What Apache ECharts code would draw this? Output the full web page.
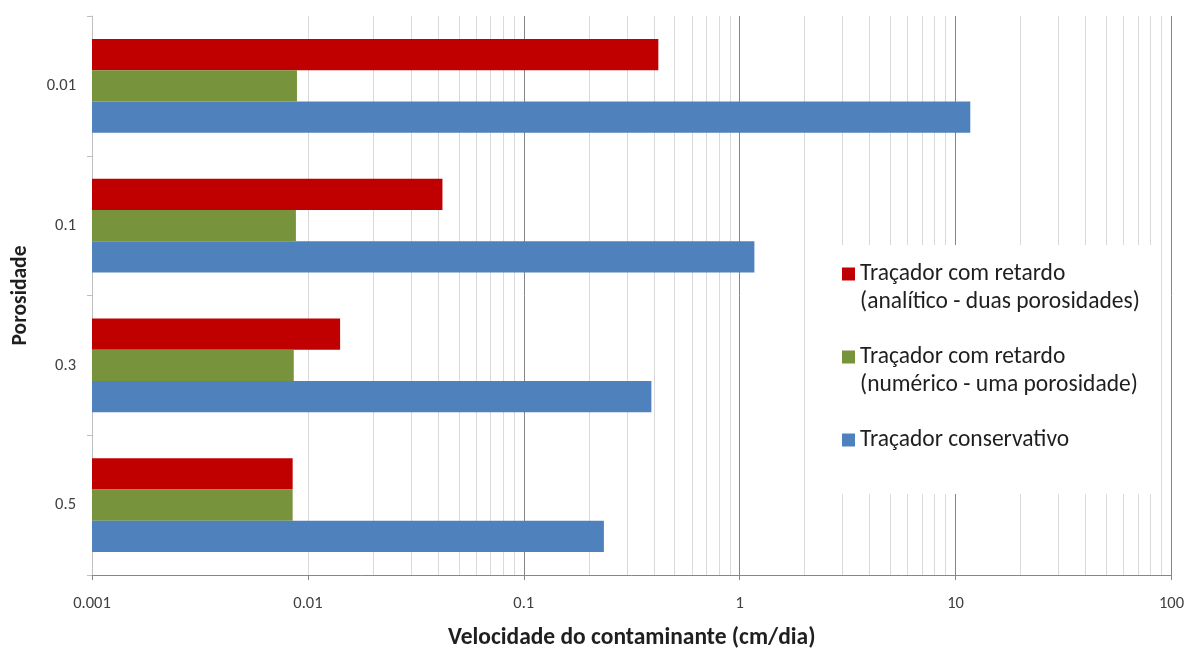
<!DOCTYPE html>
<html>
<head>
<meta charset="utf-8">
<script src="https://cdn.jsdelivr.net/npm/echarts@6/dist/echarts.min.js"></script>
<style>
html,body{margin:0;padding:0;background:#fff;}
#chart{width:1187px;height:655px;}
</style>
</head>
<body>
<div id="chart"></div>
<script>
// Data
const categories = ['0.01', '0.1', '0.3', '0.5'];
const seriesNames = [
  'Traçador com retardo\n(analítico - duas porosidades)',
  'Traçador com retardo\n(numérico - uma porosidade)',
  'Traçador conservativo'
];
const analitico = [0.42, 0.042, 0.0141, 0.0085];
const numerico = [0.0089, 0.0088, 0.0086, 0.0085];
const conservativo = [11.7, 1.17, 0.39, 0.235];
const xTickLabels = ['0.001', '0.01', '0.1', '1', '10', '100'];
const minorGridValues = [
  0.002,0.003,0.004,0.005,0.006,0.007,0.008,0.009,
  0.02,0.03,0.04,0.05,0.06,0.07,0.08,0.09,
  0.2,0.3,0.4,0.5,0.6,0.7,0.8,0.9,
  2,3,4,5,6,7,8,9,
  20,30,40,50,60,70,80,90
];

const FONT = 'Carlito, Lato, "Open Sans", sans-serif';
const colors = ['#c00000', '#77933c', '#4f81bd'];

const chart = echarts.init(document.getElementById('chart'), null, {renderer: 'canvas'});

const barSeries = [analitico, numerico, conservativo].map((vals, i) => ({
  name: seriesNames[i],
  type: 'bar',
  data: vals,
  barGap: '0%',
  barCategoryGap: '33%',
  itemStyle: {color: colors[i]},
  z: 2
}));

chart.setOption({
  animation: false,
  textStyle: {fontFamily: FONT},
  grid: {left: 92, right: 15, top: 16, bottom: 72},
  legend: {
    orient: 'vertical',
    left: 808,
    top: 245,
    itemWidth: 13,
    itemHeight: 13,
    itemGap: -1,
    icon: 'rect',
    padding: [-13, 17, 12, 34],
    backgroundColor: '#ffffff',
    data: seriesNames,
    formatter: function (name) {
      return name.indexOf('\n') >= 0 ? '\n' + name : '\n' + name + '\n';
    },
    textStyle: {fontFamily: FONT, fontSize: 23.5, lineHeight: 28, color: '#1f1f1f'},
    selectedMode: false,
    z: 4
  },
  xAxis: {
    type: 'log',
    logBase: 10,
    min: 0.001,
    max: 100,
    startValue: 0.001,
    name: 'Velocidade do contaminante (cm/dia)',
    nameLocation: 'middle',
    nameGap: 51,
    nameTextStyle: {fontFamily: FONT, fontSize: 23.5, fontWeight: 'bold', color: '#1f1f1f'},
    axisLine: {show: true, lineStyle: {color: '#868686'}},
    axisTick: {show: true, length: 5, lineStyle: {color: '#868686'}},
    axisLabel: {
      fontFamily: FONT, fontSize: 16.5, color: '#404040', margin: 20,
      formatter: function (v) {
        const e = Math.round(Math.log10(v));
        return xTickLabels[e + 3];
      }
    },
    splitLine: {show: true, lineStyle: {color: '#868686', width: 1}}
  },
  yAxis: {
    type: 'category',
    data: categories,
    inverse: true,
    name: 'Porosidade',
    nameLocation: 'middle',
    nameGap: 60,
    nameRotate: 90,
    nameTextStyle: {fontFamily: FONT, fontSize: 21.5, fontWeight: 'bold', color: '#1f1f1f'},
    axisLine: {show: true, lineStyle: {color: '#bfbfbf'}},
    axisTick: {show: true, length: 5, lineStyle: {color: '#bfbfbf'}},
    axisLabel: {fontFamily: FONT, fontSize: 16.5, color: '#404040', margin: 16},
    splitLine: {show: false}
  },
  series: [
    {
      name: 'minor-grid',
      type: 'line',
      data: [],
      z: 1,
      silent: true,
      markLine: {
        silent: true,
        z: 1,
        symbol: ['none', 'none'],
        label: {show: false},
        animation: false,
        lineStyle: {color: '#d9d9d9', type: 'solid', width: 1},
        data: minorGridValues.map(v => ({xAxis: v}))
      }
    }
  ].concat(barSeries)
});
</script>
</body>
</html>
